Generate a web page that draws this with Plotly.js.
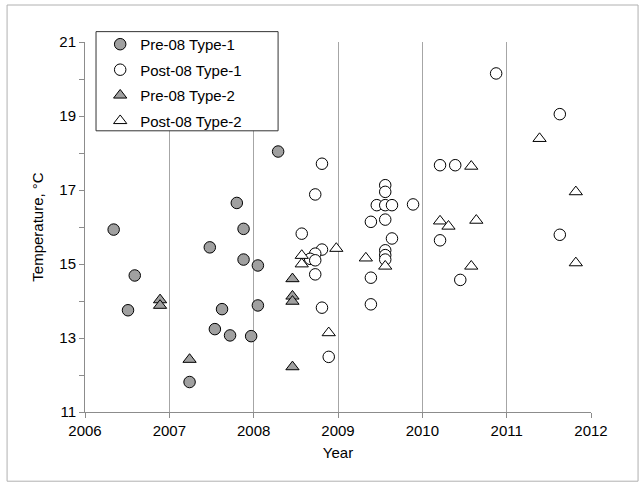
<!DOCTYPE html>
<html>
<head>
<meta charset="utf-8">
<script src="https://cdn.plot.ly/plotly-3.0.1.min.js"></script>
<style>html,body{margin:0;padding:0;background:#fff;}#chart{width:642px;height:485px;}</style>
</head>
<body>
<div id="chart"></div>
<script>
// Pre-08 Type-1 (filled circles)
const pre1Year = [2006.34, 2006.51, 2006.59, 2007.24, 2007.48, 2007.54, 2007.625, 2007.72, 2007.80, 2007.88, 2007.88, 2007.97, 2008.05, 2008.05, 2008.29];
const pre1Temp = [15.93, 13.75, 14.69, 11.81, 15.45, 13.24, 13.78, 13.07, 16.65, 15.95, 15.12, 13.05, 14.96, 13.88, 18.04];

// Post-08 Type-1 (open circles)
const post1Year = [2008.57, 2008.81, 2008.73, 2008.81, 2008.73, 2008.67, 2008.73, 2008.73, 2008.81, 2008.89, 2009.39, 2009.39, 2009.39, 2009.46, 2009.56, 2009.56, 2009.56, 2009.56, 2009.56, 2009.56, 2009.56, 2009.64, 2009.64, 2009.89, 2010.21, 2010.21, 2010.39, 2010.45, 2010.875, 2011.63, 2011.63];
const post1Temp = [15.82, 17.71, 16.88, 15.39, 15.28, 15.14, 15.10, 14.72, 13.82, 12.49, 16.14, 14.63, 13.91, 16.59, 17.13, 16.95, 16.59, 16.20, 15.37, 15.24, 15.12, 16.59, 15.69, 16.61, 17.67, 15.64, 17.67, 14.57, 20.15, 19.05, 15.79];

// Pre-08 Type-2 (filled triangles)
const pre2Year = [2006.89, 2006.89, 2007.24, 2008.46, 2008.46, 2008.46, 2008.46];
const pre2Temp = [14.03, 13.88, 12.42, 14.60, 14.13, 13.99, 12.22];

// Post-08 Type-2 (open triangles)
const post2Year = [2008.57, 2008.57, 2008.89, 2008.98, 2009.33, 2009.56, 2010.21, 2010.31, 2010.58, 2010.58, 2010.64, 2011.39, 2011.82, 2011.82];
const post2Temp = [15.23, 15.00, 13.14, 15.42, 15.16, 14.94, 16.16, 16.02, 17.64, 14.94, 16.18, 18.39, 16.95, 15.03];

const seriesNames = ['Pre-08 Type-1', 'Post-08 Type-1', 'Pre-08 Type-2', 'Post-08 Type-2'];
const yTicks = [11, 12, 13, 14, 15, 16, 17, 18, 19, 20, 21];
const yTickText = yTicks.map(v => (v % 2 === 1 ? String(v) : ''));
const xTicks = [2006, 2007, 2008, 2009, 2010, 2011, 2012];

const greyFill = '#a0a0a0';
const line = {color: '#000', width: 1};

function tr(x, y, name, symbol, fill, g) {
  return {
    x: x, y: y, name: name, type: 'scatter', mode: 'markers',
    legendgroup: g,
    marker: {symbol: symbol, size: 11.5, color: fill, line: line},
    hoverinfo: 'x+y'
  };
}

const data = [
  tr(pre1Year, pre1Temp, seriesNames[0], 'circle', greyFill, 'a'),
  tr(post1Year, post1Temp, seriesNames[1], 'circle', '#ffffff', 'b'),
  tr(pre2Year, pre2Temp, seriesNames[2], 'triangle-up', greyFill, 'c'),
  tr(post2Year, post2Temp, seriesNames[3], 'triangle-up', '#ffffff', 'd')
];

const font = {family: 'Liberation Sans, Arial, Helvetica, sans-serif', size: 15, color: '#000'};

const layout = {
  width: 642, height: 485,
  margin: {l: 85, r: 51, t: 42, b: 73, pad: 0},
  paper_bgcolor: '#fff', plot_bgcolor: '#fff',
  font: font,
  showlegend: true,
  legend: {
    x: 0.03, y: 1.038, xanchor: 'left', yanchor: 'top',
    bgcolor: 'rgba(0,0,0,0)', borderwidth: 0,
    font: font, tracegroupgap: 3, traceorder: 'grouped'
  },
  xaxis: {
    range: [2006, 2012], tickvals: xTicks, ticktext: xTicks.map(String),
    showgrid: true, gridcolor: '#a6a6a6', gridwidth: 1,
    showline: true, linecolor: '#8c8c8c', linewidth: 1,
    ticks: 'outside', ticklen: 5, tickcolor: '#8c8c8c',
    zeroline: false,
    title: {text: 'Year', font: font, standoff: 9}
  },
  yaxis: {
    range: [11, 21], tickvals: yTicks, ticktext: yTickText,
    showgrid: false,
    showline: true, linecolor: '#8c8c8c', linewidth: 1,
    ticks: 'outside', ticklen: 5, tickcolor: '#8c8c8c',
    zeroline: false,
    title: {text: 'Temperature, °C', font: font, standoff: 12}
  },
  shapes: [
    {type: 'rect', xref: 'paper', yref: 'paper', x0: -0.154, x1: 1.093, y0: -0.187, y1: 1.100,
     line: {color: '#b0b0b0', width: 1}, fillcolor: 'rgba(0,0,0,0)', layer: 'below'},
    {type: 'rect', xref: 'paper', yref: 'paper', x0: 0.0218, x1: 0.3816, y0: 0.760, y1: 1.028,
     line: {color: '#333', width: 1}, fillcolor: '#fff', layer: 'above'}
  ]
};

Plotly.newPlot('chart', data, layout, {displayModeBar: false, staticPlot: true});
</script>
</body>
</html>
